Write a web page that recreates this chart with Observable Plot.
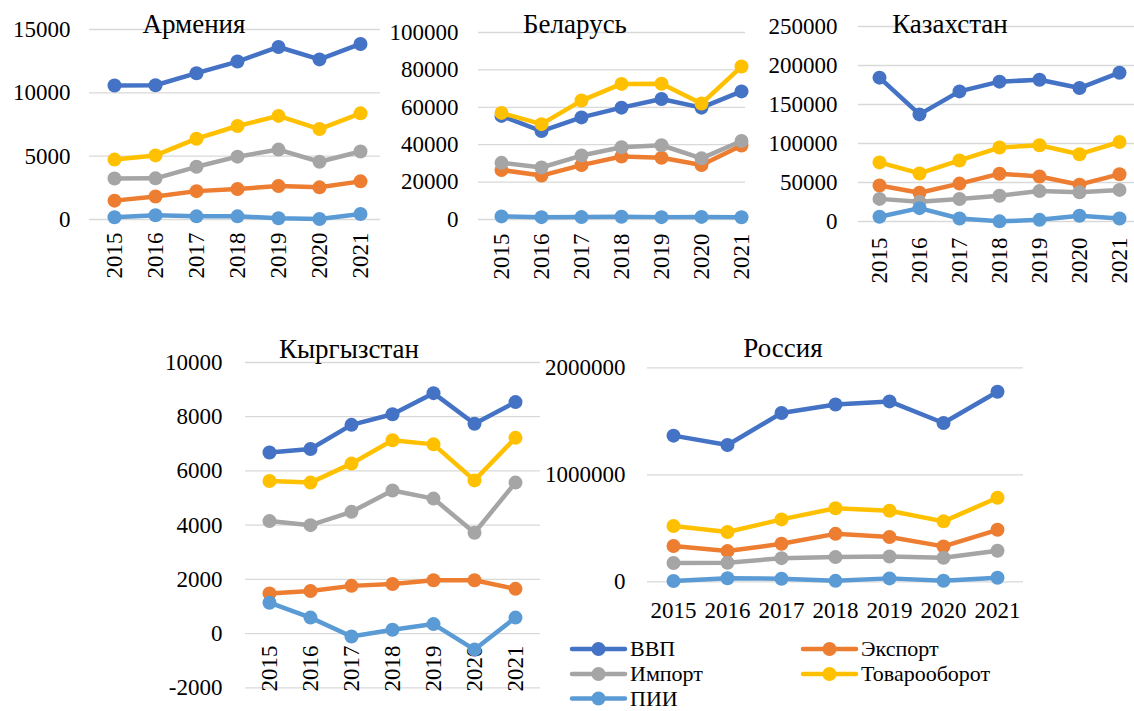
<!DOCTYPE html>
<html>
<head>
<meta charset="utf-8">
<script src="https://cdn.jsdelivr.net/npm/d3@7"></script>
<script src="https://cdn.jsdelivr.net/npm/@observablehq/plot@0.6"></script>
<style>
  html, body { margin: 0; padding: 0; background: #fff; }
  #root { position: relative; width: 1134px; height: 711px; overflow: hidden; font-family: "Liberation Serif", "Times New Roman", serif; }
  .panel { position: absolute; }
  .panel svg { max-width: none; }
  #overlay { position: absolute; left: 0; top: 0; pointer-events: none; }
</style>
</head>
<body>
<div id="root"></div>
<script>
// ---------- data ----------
const years = [2015, 2016, 2017, 2018, 2019, 2020, 2021];
const seriesNames = ["ВВП", "Экспорт", "Импорт", "Товарооборот", "ПИИ"];
const seriesColors = ["#4472C4", "#ED7D31", "#A5A5A5", "#FFC000", "#5B9BD5"];
const countryNames = ["Армения", "Беларусь", "Казахстан", "Кыргызстан", "Россия"];

// Армения
const armGDP   = [10580, 10600, 11550, 12470, 13620, 12640, 13860];
const armExp   = [1490, 1810, 2240, 2410, 2640, 2540, 3010];
const armImp   = [3240, 3250, 4160, 4960, 5520, 4560, 5370];
const armTrade = [4730, 5060, 6380, 7380, 8180, 7140, 8380];
const armFDI   = [180, 340, 250, 250, 100, 40, 430];
const armTicks = [0, 5000, 10000, 15000];

// Беларусь
const blrGDP   = [55400, 47300, 54600, 59800, 64400, 59800, 68500];
const blrExp   = [26500, 23500, 29100, 33700, 33000, 29100, 39600];
const blrImp   = [30300, 27800, 34200, 38600, 39700, 32700, 42000];
const blrTrade = [57000, 51000, 63600, 72500, 72600, 62000, 81800];
const blrFDI   = [1650, 1250, 1280, 1440, 1270, 1380, 1230];
const blrTicks = [0, 20000, 40000, 60000, 80000, 100000];

// Казахстан
const kazGDP   = [184400, 137300, 166800, 179300, 181700, 171100, 190800];
const kazExp   = [46200, 36900, 48600, 61300, 57700, 47200, 60500];
const kazImp   = [29000, 25200, 28800, 33000, 39000, 37500, 40500];
const kazTrade = [75800, 61600, 78300, 94800, 97800, 86300, 101900];
const kazFDI   = [6000, 17100, 3800, 200, 2100, 7300, 3800];
const kazTicks = [0, 50000, 100000, 150000, 200000, 250000];

// Кыргызстан
const kgzGDP   = [6680, 6810, 7700, 8090, 8870, 7740, 8540];
const kgzExp   = [1480, 1570, 1760, 1830, 1970, 1970, 1650];
const kgzImp   = [4150, 4000, 4490, 5280, 4980, 3720, 5570];
const kgzTrade = [5630, 5570, 6270, 7130, 6980, 5650, 7220];
const kgzFDI   = [1140, 590, -110, 140, 350, -590, 590];
const kgzTicks = [-2000, 0, 2000, 4000, 6000, 8000, 10000];

// Россия
const rusGDP   = [1366000, 1279000, 1577000, 1657000, 1686000, 1484000, 1776000];
const rusExp   = [335000, 287000, 355000, 448000, 418000, 331000, 486000];
const rusImp   = [176000, 178000, 221000, 231000, 237000, 225000, 290000];
const rusTrade = [521000, 465000, 583000, 688000, 664000, 565000, 785000];
const rusFDI   = [7000, 33000, 29000, 9000, 32000, 10000, 38000];
const rusTicks = [0, 1000000, 2000000];

// ---------- layout (positions / styles only) ----------
const FONT = '"Liberation Serif", "Times New Roman", serif';
const panels = [
  {name: countryNames[0], series: [armGDP, armExp, armImp, armTrade, armFDI], ticks: armTicks, domain: [0, 15000],
   left: 0, top: 0, width: 380, height: 290, mL: 89, mR: 0, mT: 29, mB: 71, xRange: [112, 362], yPad: 19, xMode: "rot", xPad: 13,
   title: {x: 194, y: 33}},
  {name: countryNames[1], series: [blrGDP, blrExp, blrImp, blrTrade, blrFDI], ticks: blrTicks, domain: [0, 100000],
   left: 370, top: 0, width: 380, height: 290, mL: 108, mR: 5, mT: 32, mB: 71, xRange: [130, 371], yPad: 20, xMode: "rot", xPad: 14,
   title: {x: 575, y: 33}},
  {name: countryNames[2], series: [kazGDP, kazExp, kazImp, kazTrade, kazFDI], ticks: kazTicks, domain: [0, 250000],
   left: 750, top: 0, width: 384, height: 292, mL: 108, mR: 0, mT: 26, mB: 71, xRange: [128, 369], yPad: 21, xMode: "rot", xPad: 16,
   title: {x: 950, y: 33}},
  {name: countryNames[3], series: [kgzGDP, kgzExp, kgzImp, kgzTrade, kgzFDI], ticks: kgzTicks, domain: [-2000, 10000],
   left: 150, top: 330, width: 390, height: 381, mL: 95, mR: 0, mT: 32, mB: 23.7, xRange: [116, 367], yPad: 23, xMode: "zero", xPad: 12,
   title: {x: 349, y: 358}},
  {name: countryNames[4], series: [rusGDP, rusExp, rusImp, rusTrade, rusFDI], ticks: rusTicks, domain: [0, 2000000],
   left: 530, top: 350, width: 500, height: 290, mL: 117, mR: 7, mT: 17.3, mB: 58.7, xRange: [143, 467], yPad: 22, xMode: "flat", xPad: 20,
   title: {x: 783, y: 357}}
];

const root = document.getElementById("root");

function rowsFor(seriesArrays) {
  return seriesArrays.flatMap((vals, i) => vals.map((v, j) => ({year: years[j], value: v, series: seriesNames[i]})));
}

for (const p of panels) {
  const rows = rowsFor(p.series);
  const marks = [
    Plot.ruleY(p.ticks, {stroke: "#d9d9d9", strokeWidth: 1.3}),
    Plot.axisY({ticks: p.ticks, tickSize: 0, tickPadding: p.yPad, tickFormat: d => String(d), label: null})
  ];
  if (p.xMode === "rot") {
    marks.push(Plot.axisX({tickRotate: -90, tickSize: 0, tickPadding: p.xPad, tickFormat: d => String(d), label: null}));
  } else if (p.xMode === "flat") {
    marks.push(Plot.axisX({tickSize: 0, tickPadding: p.xPad, tickFormat: d => String(d), label: null}));
  } else {
    marks.push(Plot.axisX({ticks: [], label: null}));
    marks.push(Plot.text(years, {x: d => d, y: () => 0, text: d => String(d), rotate: -90, textAnchor: "end", dy: p.xPad, fill: "black"}));
  }
  seriesNames.forEach((s, i) => {
    const d = rows.filter(r => r.series === s);
    marks.push(Plot.line(d, {x: "year", y: "value", stroke: seriesColors[i], strokeWidth: 4.5, strokeLinejoin: "round"}));
    marks.push(Plot.dot(d, {x: "year", y: "value", fill: seriesColors[i], r: 7}));
  });
  const chart = Plot.plot({
    width: p.width, height: p.height,
    marginLeft: p.mL, marginRight: p.mR, marginTop: p.mT, marginBottom: p.mB,
    x: {type: "point", domain: years, range: p.xRange, padding: 0},
    y: {domain: p.domain},
    style: {fontFamily: FONT, fontSize: "23px", color: "black", background: "transparent", overflow: "visible"},
    marks
  });
  const div = document.createElement("div");
  div.className = "panel";
  div.style.left = p.left + "px";
  div.style.top = p.top + "px";
  div.style.width = p.width + "px";
  div.style.height = p.height + "px";
  div.appendChild(chart);
  root.appendChild(div);
}

// ---------- titles & legend overlay ----------
const overlay = d3.select(root).append("svg").attr("id", "overlay")
  .attr("width", 1134).attr("height", 711)
  .style("font-family", FONT);

for (const p of panels) {
  overlay.append("text").attr("x", p.title.x).attr("y", p.title.y)
    .attr("text-anchor", "middle").attr("font-size", 27).attr("fill", "black").text(p.name);
}

const legendPos = [
  {lx: 572, y: 649}, {lx: 803, y: 649},
  {lx: 572, y: 674}, {lx: 803, y: 674},
  {lx: 572, y: 698.5}
];
seriesNames.forEach((s, i) => {
  const pos = legendPos[i];
  const g = overlay.append("g");
  g.append("line").attr("x1", pos.lx).attr("x2", pos.lx + 53).attr("y1", pos.y).attr("y2", pos.y)
    .attr("stroke", seriesColors[i]).attr("stroke-width", 4.5).attr("stroke-linecap", "round");
  g.append("circle").attr("cx", pos.lx + 26.5).attr("cy", pos.y).attr("r", 7).attr("fill", seriesColors[i]);
  g.append("text").attr("x", pos.lx + 58).attr("y", pos.y).attr("dy", "0.33em")
    .attr("font-size", 22).attr("fill", "black").text(s);
});
</script>
</body>
</html>
